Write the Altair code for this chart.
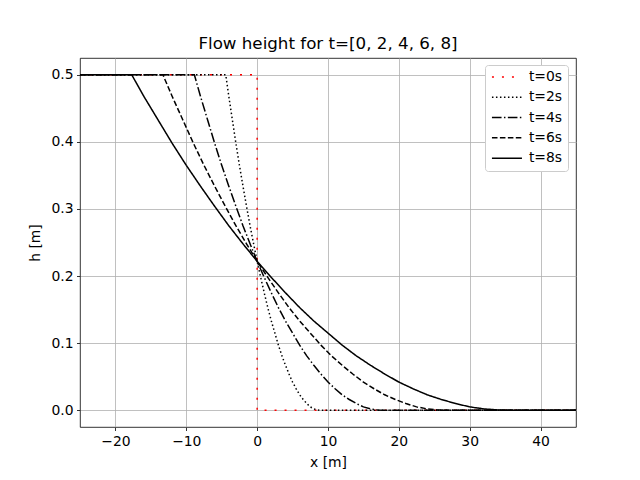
import altair as alt
import pandas as pd

# Series labels (legend order)
SERIES = ["t=0s", "t=2s", "t=4s", "t=6s", "t=8s"]

# t=0 initial condition (dam at x=0)
X_T0 = [-25.0, 0.0, 0.0, 45.0]
H_T0 = [0.5, 0.5, 0.0, 0.0]

# Shared flow-height levels
H_LEVELS = [0.5, 0.5, 0.468, 0.433, 0.398, 0.365, 0.334, 0.304, 0.275, 0.248, 0.222,
            0.198, 0.175, 0.153, 0.133, 0.115, 0.097, 0.081, 0.067, 0.054, 0.042,
            0.032, 0.023, 0.016, 0.010, 0.005, 0.002, 0.0004, 0.0, 0.0]

# x positions at which each curve reaches those levels
X_T2 = [-25.0, -4.43, -4.0, -3.5, -3.0, -2.5, -2.0, -1.5, -1.0, -0.5, 0.0,
        0.5, 1.0, 1.5, 2.0, 2.5, 3.0, 3.5, 4.0, 4.5, 5.0,
        5.5, 6.0, 6.5, 7.0, 7.5, 8.0, 8.5, 8.86, 45.0]
X_T4 = [-25.0, -8.86, -8.0, -7.0, -6.0, -5.0, -4.0, -3.0, -2.0, -1.0, 0.0,
        1.0, 2.0, 3.0, 4.0, 5.0, 6.0, 7.0, 8.0, 9.0, 10.0,
        11.0, 12.0, 13.0, 14.0, 15.0, 16.0, 17.0, 17.7, 45.0]
X_T6 = [-25.0, -13.3, -12.0, -10.5, -9.0, -7.5, -6.0, -4.5, -3.0, -1.5, 0.0,
        1.5, 3.0, 4.5, 6.0, 7.5, 9.0, 10.5, 12.0, 13.5, 15.0,
        16.5, 18.0, 19.5, 21.0, 22.5, 24.0, 25.5, 26.6, 45.0]
X_T8 = [-25.0, -17.7, -16.0, -14.0, -12.0, -10.0, -8.0, -6.0, -4.0, -2.0, 0.0,
        2.0, 4.0, 6.0, 8.0, 10.0, 12.0, 14.0, 16.0, 18.0, 20.0,
        22.0, 24.0, 26.0, 28.0, 30.0, 32.0, 34.0, 35.4, 45.0]

X_TICKS = [-20, -10, 0, 10, 20, 30, 40]
Y_TICKS = [0.0, 0.1, 0.2, 0.3, 0.4, 0.5]

rows = []
for i, (x, h) in enumerate(zip(X_T0, H_T0)):
    rows.append({"series": SERIES[0], "x": x, "h": h, "i": i})
for name, xs in zip(SERIES[1:], [X_T2, X_T4, X_T6, X_T8]):
    for i, (x, h) in enumerate(zip(xs, H_LEVELS)):
        rows.append({"series": name, "x": x, "h": h, "i": i})
df = pd.DataFrame(rows)

FONT = "DejaVu Sans"

chart = alt.Chart(df).mark_line(strokeWidth=1.5, strokeCap="butt").encode(
    x=alt.X("x:Q", scale=alt.Scale(domain=[-25, 45], nice=False, zero=False),
            axis=alt.Axis(title="x [m]", values=X_TICKS, format="d")),
    y=alt.Y("h:Q", scale=alt.Scale(domain=[-0.025, 0.525], nice=False, zero=False),
            axis=alt.Axis(title="h [m]", values=Y_TICKS, format=".1f")),
    color=alt.Color("series:N", scale=alt.Scale(domain=SERIES,
                    range=["red", "black", "black", "black", "black"]),
                    legend=alt.Legend(title=None)),
    strokeDash=alt.StrokeDash("series:N", scale=alt.Scale(domain=SERIES,
                    range=[[2, 8], [1.5, 2.5], [9.6, 2.4, 1.5, 2.4], [5.55, 2.4], [1, 0]]),
                    legend=alt.Legend(title=None)),
    order="i:Q",
).properties(
    width=496, height=369,
    title=alt.Title("Flow height for t=[0, 2, 4, 6, 8]", fontSize=16.7, font=FONT,
                    fontWeight="normal", color="black", offset=5),
    autosize=alt.AutoSizeParams(type="none"),
    padding={"left": 80, "top": 58, "right": 64, "bottom": 53},
).configure_view(
    stroke="black", strokeWidth=0.8
).configure_axis(
    domain=False,
    grid=True, gridColor="#b0b0b0", gridWidth=0.8,
    tickColor="black", tickWidth=0.8, tickSize=3.5,
    labelFont=FONT, labelFontSize=13.9, labelColor="black", labelPadding=3.5,
    titleFont=FONT, titleFontSize=13.9, titleFontWeight="normal", titleColor="black",
).configure_axisX(
    titlePadding=8,
).configure_axisY(
    titlePadding=8,
).configure_legend(
    orient="none", legendX=405, legendY=7,
    fillColor="white", strokeColor="#cccccc", cornerRadius=3, padding=5,
    symbolType="M-1,0H5", symbolSize=100, symbolStrokeWidth=1.5,
    labelFont=FONT, labelFontSize=13.9, labelColor="black", labelOffset=25,
    rowPadding=5.3,
)

chart.save("out.html", embed_options={"renderer": "svg", "actions": False})
